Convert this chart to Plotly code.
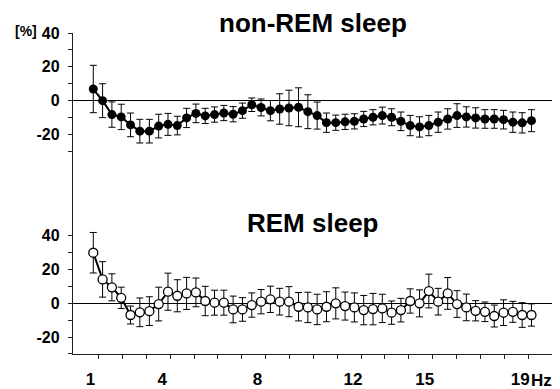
import plotly.graph_objects as go

# Frequency bins (Hz), 0.39 Hz resolution
freq = [0.78, 1.17, 1.56, 1.95, 2.34, 2.73, 3.13, 3.52, 3.91, 4.30, 4.69, 5.08,
        5.47, 5.86, 6.25, 6.64, 7.03, 7.42, 7.81, 8.20, 8.59, 8.98, 9.38, 9.77,
        10.16, 10.55, 10.94, 11.33, 11.72, 12.11, 12.50, 12.89, 13.28, 13.67, 14.06, 14.45,
        14.84, 15.23, 15.63, 16.02, 16.41, 16.80, 17.19, 17.58, 17.97, 18.36, 18.75, 19.14]

nrem_mean = [6.9, 0.0, -8.2, -9.6, -14.3, -18.0, -18.0, -15.0, -14.0, -14.7, -10.2, -7.5,
             -9.0, -8.2, -7.3, -8.0, -5.9, -2.4, -4.0, -5.9, -4.9, -4.3, -3.9, -6.5,
             -8.8, -13.0, -13.0, -12.5, -12.2, -10.8, -9.8, -8.8, -9.8, -12.2, -14.7, -15.5,
             -14.7, -12.7, -10.8, -8.8, -9.6, -10.2, -10.8, -10.8, -11.2, -12.7, -13.1, -11.8]
nrem_err = [14, 10, 7.5, 7.5, 7, 7, 7, 7, 6.5, 5.5, 5.7, 5.5,
            4.5, 4.5, 4.5, 4.5, 4.5, 4, 5, 6, 9, 10.5, 11.5, 10,
            8, 5.7, 4.5, 4.5, 4.5, 4.5, 4.5, 5, 5, 5.5, 6, 6,
            6, 6, 6, 7, 6, 6, 5.5, 5.5, 5.5, 6, 6, 6.5]

rem_mean = [30.0, 14.2, 9.5, 3.3, -6.9, -5.3, -4.6, -0.4, 6.9, 4.5, 5.9, 6.5,
            1.4, 0.4, 0.4, -3.6, -3.6, -1.0, 1.0, 2.4, 1.0, 1.0, -2.0, -2.4,
            -3.6, -2.0, 0.0, -1.6, -2.4, -4.0, -3.4, -3.0, -5.5, -4.0, 1.4, 0.0,
            7.3, 1.0, 5.9, -0.4, -2.4, -4.4, -5.0, -7.5, -5.5, -5.0, -6.9, -6.9]
rem_err = [12, 10.5, 8, 6.3, 5.3, 8.5, 8.5, 10, 11, 9.5, 9.5, 8.5,
           8.7, 7.4, 7.4, 7.9, 7, 7.2, 7.2, 7.8, 7.9, 8.9, 8.4, 9,
           9, 8.9, 9.2, 8.3, 8.6, 8.7, 9.3, 8.4, 6.9, 7, 7.2, 8,
           10, 7.9, 9.4, 7.9, 7.9, 6, 5.8, 6.5, 7.6, 6.2, 7.3, 6.6]

x_tickvals = [1, 2, 3, 4, 5, 6, 7, 8, 9, 10, 11, 12, 13, 14, 15, 16, 17, 18, 19]
x_ticktext = ["1", "", "", "4", "", "", "", "8", "", "", "", "12", "", "", "15", "", "", "", "19"]
y_tickvals = [-30, -20, -10, 0, 10, 20, 30, 40]
y_ticktext = ["", "-20", "", "0", "", "20", "", "40"]

FONT = "Liberation Sans, Arial, sans-serif"
err_style = dict(type="data", color="black", thickness=1, width=3.5)

fig = go.Figure()
fig.add_trace(go.Scatter(
    x=freq, y=nrem_mean, xaxis="x2", yaxis="y2", mode="lines+markers",
    line=dict(color="black", width=2),
    marker=dict(symbol="circle", size=9, color="black"),
    error_y=dict(array=nrem_err, **err_style), showlegend=False))
fig.add_trace(go.Scatter(
    x=freq, y=rem_mean, xaxis="x", yaxis="y", mode="lines+markers",
    line=dict(color="black", width=2),
    marker=dict(symbol="circle", size=9, color="white", line=dict(color="black", width=1.3)),
    error_y=dict(array=rem_err, **err_style), showlegend=False))

yax_common = dict(
    tickvals=y_tickvals, ticktext=y_ticktext, ticks="outside", ticklen=4,
    tickwidth=1, tickcolor="#222", showline=True, linecolor="#222", linewidth=1.3,
    showgrid=False, zeroline=True, zerolinecolor="black", zerolinewidth=1.3,
    tickfont=dict(family=FONT, size=16, color="black", weight="bold"),
    ticklabelstandoff=5, automargin=False,
)

# page body adds an 8px offset, so the figure is sized 8px smaller
fig.update_layout(
    template="none",
    width=552, height=381,
    margin=dict(l=65, r=8, t=25, b=35),
    paper_bgcolor="white", plot_bgcolor="white",
    xaxis=dict(range=[-0.07, 20.0], domain=[0, 1], anchor="y",
               tickvals=x_tickvals, ticktext=x_ticktext, ticks="outside", ticklen=4,
               tickwidth=1, tickcolor="#222", showline=True, linecolor="#222", linewidth=1.3,
               showgrid=False, zeroline=False, automargin=False,
               ticklabelshift=-8, ticklabelstandoff=5,
               tickfont=dict(family=FONT, size=17, color="black", weight="bold")),
    xaxis2=dict(range=[-0.07, 20.0], domain=[0, 1], anchor="y2", matches="x", visible=False),
    yaxis=dict(range=[-30, 90], domain=[0, 0.631], anchor="x", **yax_common),
    yaxis2=dict(range=[-30, 40], domain=[0.631, 1], anchor="x2", **yax_common),
    annotations=[
        dict(text="non-REM sleep", xref="paper", yref="paper", x=0.502, y=1.032,
             xanchor="center", yanchor="middle", showarrow=False,
             font=dict(family=FONT, size=26, color="black", weight="bold")),
        dict(text="REM sleep", xref="paper", yref="paper", x=0.502, y=0.409,
             xanchor="center", yanchor="middle", showarrow=False,
             font=dict(family=FONT, size=26, color="black", weight="bold")),
        dict(text="[%]", xref="paper", yref="paper", x=-0.0975, y=1.005,
             xanchor="center", yanchor="middle", showarrow=False,
             font=dict(family=FONT, size=14, color="black", weight="bold")),
        dict(text="Hz", xref="paper", yref="paper", x=0.979, y=-0.082,
             xanchor="center", yanchor="middle", showarrow=False,
             font=dict(family=FONT, size=17, color="black", weight="bold")),
    ],
)

fig.write_html("out.html")
